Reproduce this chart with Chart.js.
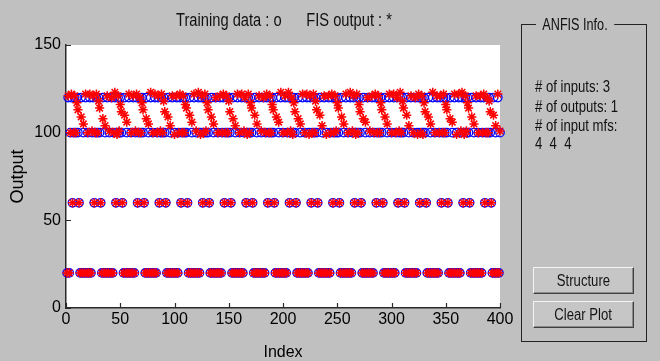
<!DOCTYPE html>
<html>
<head>
<meta charset="utf-8">
<script src="https://cdn.jsdelivr.net/npm/chart.js@4/dist/chart.umd.min.js"></script>
<style>
  html, body { margin: 0; padding: 0; background: #c0c0c0; }
  #wrap { position: relative; width: 660px; height: 361px; overflow: hidden; background: #c0c0c0; }
  #plot { position: absolute; left: 0; top: 0; }
  .t { position: absolute; font-family: 'Liberation Sans', Arial, sans-serif; line-height: 1; white-space: pre; color: #111;
       transform-origin: 0 0; }
  #frame { position: absolute; left: 521px; top: 24px; width: 126px; height: 318px; border: 1px solid #222; box-sizing: border-box; }
  .btn { position: absolute; left: 533px; width: 101px; height: 27px; box-sizing: border-box; background: #c6c6c6;
         border-top: 1px solid #f4f4f4; border-left: 1px solid #f4f4f4; border-right: 1px solid #404040; border-bottom: 1px solid #404040;
         box-shadow: inset -1px -1px 0 #8a8a8a; text-align: center; }
  .btn span { display: inline-block; font-family: 'Liberation Sans', Arial, sans-serif; font-size: 16px; line-height: 25px;
              color: #151515; transform: scaleX(0.82); }
</style>
</head>
<body>
<div id="wrap">
  <canvas id="plot" width="660" height="361"></canvas>
  <div class="t" style="left:176px;top:11.5px;font-size:17.5px;transform:scaleX(0.84);">Training data : o      FIS output : *</div>
  <div id="frame"></div>
  <div class="t" style="left:536px;top:16.5px;font-size:16px;background:#c0c0c0;padding:0 8px;transform:scaleX(0.79);">ANFIS Info.</div>
  <div class="t" style="left:535px;top:78.5px;font-size:16px;transform:scaleX(0.82);"># of inputs: 3</div>
  <div class="t" style="left:535px;top:98.5px;font-size:16px;transform:scaleX(0.82);"># of outputs: 1</div>
  <div class="t" style="left:535px;top:117.5px;font-size:16px;transform:scaleX(0.82);"># of input mfs:</div>
  <div class="t" style="left:535px;top:136px;font-size:16px;transform:scaleX(0.82);">4  4  4</div>
  <div class="btn" style="top:267px;"><span>Structure</span></div>
  <div class="btn" style="top:301px;"><span>Clear Plot</span></div>
</div>
<script>
// Training targets, one value per sample index (1..400)
const trainingData = [
  20,120,20,100,120,60,100,120,100,120,100,60,20,120,20,100,20,120,20,100,
  20,120,20,100,120,60,100,120,100,120,100,60,20,120,20,100,20,120,20,100,
  20,120,20,100,120,60,100,120,100,120,100,60,20,120,20,100,20,120,20,100,
  20,120,20,100,120,60,100,120,100,120,100,60,20,120,20,100,20,120,20,100,
  20,120,20,100,120,60,100,120,100,120,100,60,20,120,20,100,20,120,20,100,
  20,120,20,100,120,60,100,120,100,120,100,60,20,120,20,100,20,120,20,100,
  20,120,20,100,120,60,100,120,100,120,100,60,20,120,20,100,20,120,20,100,
  20,120,20,100,120,60,100,120,100,120,100,60,20,120,20,100,20,120,20,100,
  20,120,20,100,120,60,100,120,100,120,100,60,20,120,20,100,20,120,20,100,
  20,120,20,100,120,60,100,120,100,120,100,60,20,120,20,100,20,120,20,100,
  20,120,20,100,120,60,100,120,100,120,100,60,20,120,20,100,20,120,20,100,
  20,120,20,100,120,60,100,120,100,120,100,60,20,120,20,100,20,120,20,100,
  20,120,20,100,120,60,100,120,100,120,100,60,20,120,20,100,20,120,20,100,
  20,120,20,100,120,60,100,120,100,120,100,60,20,120,20,100,20,120,20,100,
  20,120,20,100,120,60,100,120,100,120,100,60,20,120,20,100,20,120,20,100,
  20,120,20,100,120,60,100,120,100,120,100,60,20,120,20,100,20,120,20,100,
  20,120,20,100,120,60,100,120,100,120,100,60,20,120,20,100,20,120,20,100,
  20,120,20,100,120,60,100,120,100,120,100,60,20,120,20,100,20,120,20,100,
  20,120,20,100,120,60,100,120,100,120,100,60,20,120,20,100,20,120,20,100,
  20,120,20,100,120,60,100,120,100,120,100,60,20,120,20,100,20,120,20,100
];

// ANFIS output evaluated at the same samples
const fisOutput = [
  20,121,20,100,122,60,100,121,100,117,113,60,20,109,20,105,20,122,20,100,
  20,122,20,101,121,60,100,122,100,118,114,60,20,108,20,104,20,121,20,101,
  20,120,20,100,123,60,99,121,101,116,112,60,20,110,20,106,20,122,20,100,
  20,121,20,101,122,60,100,120,100,117,113,60,20,108,20,105,20,123,20,100,
  20,122,20,100,121,60,101,122,100,118,112,60,20,109,20,104,20,121,20,99,
  20,121,20,100,122,60,100,121,100,116,114,60,20,110,20,106,20,122,20,101,
  20,123,20,99,121,60,100,122,101,117,113,60,20,109,20,105,20,120,20,100,
  20,121,20,100,122,60,100,121,100,118,112,60,20,108,20,104,20,122,20,100,
  20,122,20,101,120,60,99,122,100,117,114,60,20,110,20,105,20,121,20,101,
  20,120,20,100,122,60,100,121,100,116,113,60,20,109,20,106,20,123,20,100,
  20,121,20,100,123,60,101,120,99,117,112,60,20,108,20,105,20,122,20,100,
  20,122,20,99,121,60,100,122,100,118,113,60,20,110,20,104,20,121,20,99,
  20,121,20,100,122,60,100,121,101,117,114,60,20,109,20,105,20,122,20,100,
  20,123,20,101,121,60,99,122,100,116,112,60,20,108,20,106,20,120,20,101,
  20,121,20,100,122,60,100,121,100,117,113,60,20,109,20,105,20,122,20,100,
  20,122,20,100,120,60,101,123,100,118,114,60,20,110,20,104,20,121,20,100,
  20,120,20,99,122,60,100,121,99,117,112,60,20,109,20,105,20,123,20,100,
  20,121,20,100,121,60,100,122,100,116,113,60,20,108,20,106,20,122,20,99,
  20,122,20,101,123,60,99,121,101,117,114,60,20,109,20,105,20,121,20,100,
  20,121,20,100,122,60,100,120,100,118,112,60,20,110,20,104,20,122,20,101
];

const xTickValues = [0, 50, 100, 150, 200, 250, 300, 350, 400];
const yTickValues = [0, 50, 100, 150];

const FONT = "'Liberation Sans', Arial, sans-serif";
const AXIS_COLOR = '#2a2a2a';

const byIndex = values => values.map((v, i) => ({ x: i + 1, y: v }));

// white axes background
const plotBackground = {
  id: 'plotBackground',
  beforeDraw(chart) {
    const { ctx, chartArea: a } = chart;
    ctx.save();
    ctx.fillStyle = '#ffffff';
    ctx.fillRect(a.left, a.top, a.right - a.left, a.bottom - a.top);
    ctx.restore();
  }
};

// tick marks pointing into the axes
const inwardTicks = {
  id: 'inwardTicks',
  beforeDatasetsDraw(chart) {
    const { ctx, chartArea: a, scales } = chart;
    const len = 5;
    ctx.save();
    ctx.strokeStyle = AXIS_COLOR;
    ctx.lineWidth = 1.2;
    ctx.beginPath();
    scales.x.ticks.forEach(t => {
      const px = Math.round(scales.x.getPixelForValue(t.value)) + 0.5;
      ctx.moveTo(px, a.bottom);
      ctx.lineTo(px, a.bottom - len);
    });
    scales.y.ticks.forEach(t => {
      const py = Math.round(scales.y.getPixelForValue(t.value)) + 0.5;
      ctx.moveTo(a.left, py);
      ctx.lineTo(a.left + len, py);
    });
    ctx.stroke();
    ctx.restore();
  }
};

new Chart(document.getElementById('plot'), {
  type: 'scatter',
  data: {
    datasets: [
      {
        label: 'Training data',
        data: byIndex(trainingData),
        pointStyle: 'circle',
        pointRadius: 4.2,
        pointBorderWidth: 1.3,
        borderColor: '#0000ff',
        backgroundColor: 'rgba(0,0,0,0)',
        order: 1,
        clip: false
      },
      {
        label: 'FIS output',
        data: byIndex(fisOutput),
        pointStyle: 'star',
        pointRadius: 4.6,
        pointBorderWidth: 1.5,
        borderColor: '#ff0000',
        backgroundColor: '#ff0000',
        order: 0,
        clip: false
      }
    ]
  },
  options: {
    responsive: false,
    animation: false,
    devicePixelRatio: 1,
    layout: { padding: { left: 0, top: 45, right: 160, bottom: 0 } },
    plugins: { legend: { display: false }, tooltip: { enabled: false } },
    scales: {
      x: {
        type: 'linear',
        min: 0,
        max: 400,
        afterFit(s) { s.height = 53; },
        afterBuildTicks(s) { s.ticks = xTickValues.map(v => ({ value: v })); },
        grid: { display: false, drawTicks: false },
        border: { display: true, color: AXIS_COLOR, width: 1.5 },
        ticks: { padding: 2, color: '#000', maxRotation: 0, autoSkip: false, font: { family: FONT, size: 16 } },
        title: { display: true, text: 'Index', color: '#000', padding: 0, font: { family: FONT, size: 16, lineHeight: 1 } }
      },
      y: {
        type: 'linear',
        min: 0,
        max: 150,
        afterFit(s) { s.width = 66; },
        afterBuildTicks(s) { s.ticks = yTickValues.map(v => ({ value: v })); },
        grid: { display: false, drawTicks: false },
        border: { display: true, color: AXIS_COLOR, width: 1.5 },
        ticks: { padding: 5, color: '#000', autoSkip: false, font: { family: FONT, size: 16 } },
        title: { display: true, text: 'Output', color: '#000', padding: { top: 9, bottom: 0 }, font: { family: FONT, size: 18, lineHeight: 1 } }
      }
    }
  },
  plugins: [plotBackground, inwardTicks]
});
</script>
</body>
</html>
